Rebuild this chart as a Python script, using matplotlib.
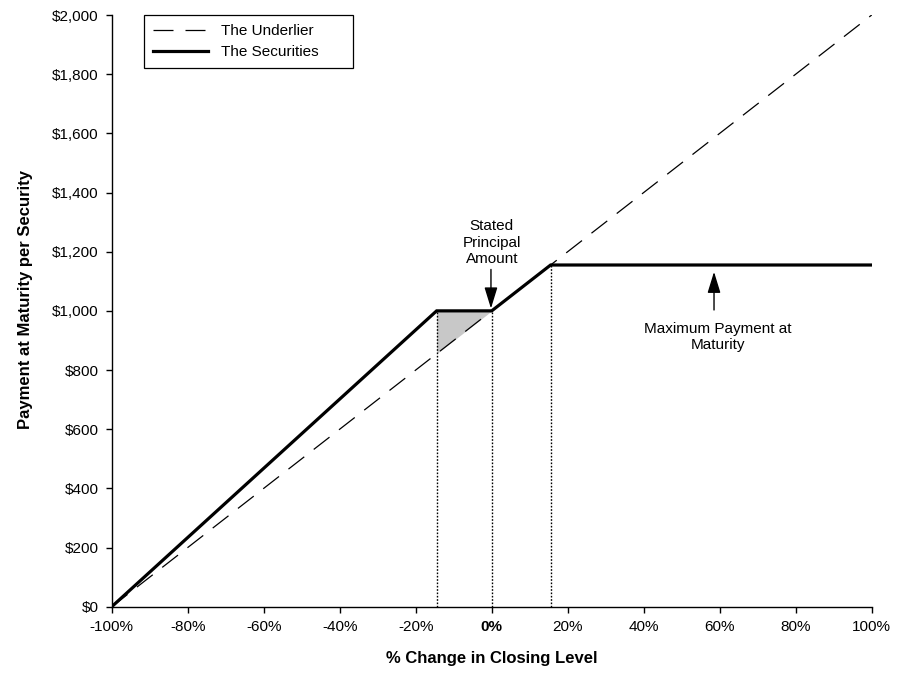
import numpy as np
import matplotlib
matplotlib.use('Agg')
import matplotlib.pyplot as plt

plt.rcParams['font.family'] = ['Liberation Sans', 'DejaVu Sans']

# Data
underlier_x = [-100, 100]
underlier_y = [0, 2000]
securities_x = [-100, -14.5, 0, 15.5, 100]
securities_y = [0, 1000, 1000, 1155, 1155]
buffer_x = [-14.5, 0]
guide_x = [-14.5, 0, 15.5]
x_ticks = [-100, -80, -60, -40, -20, 0, 20, 40, 60, 80, 100]
y_ticks = [0, 200, 400, 600, 800, 1000, 1200, 1400, 1600, 1800, 2000]

fig = plt.figure(figsize=(9.01, 6.73), dpi=100)
ax = fig.add_axes([0.124, 0.0985, 0.8435, 0.8792])

# shaded buffer region between the two lines
fx = np.linspace(buffer_x[0], buffer_x[1], 50)
ax.fill_between(fx, np.interp(fx, underlier_x, underlier_y),
                np.interp(fx, securities_x, securities_y),
                color='#c8c8c8', linewidth=0, zorder=1)

# dotted guide lines down to the axis
for gx in guide_x:
    ax.plot([gx, gx], [0, np.interp(gx, securities_x, securities_y)],
            color='black', linestyle=(0, (1.2, 1.2)), linewidth=1.0, zorder=2)

ax.plot(underlier_x, underlier_y, color='black', linewidth=0.9,
        linestyle=(0, (16, 9.6)), label='The Underlier', zorder=3)
ax.plot(securities_x, securities_y, color='black', linewidth=2.3,
        label='The Securities', zorder=4, solid_joinstyle='miter')

ax.set_xlim(-100, 100)
ax.set_ylim(0, 2000)
ax.set_xticks(x_ticks)
ax.set_xticklabels(['%d%%' % t for t in x_ticks], fontsize=11)
ax.get_xticklabels()[5].set_fontweight('bold')
ax.set_yticks(y_ticks)
ax.set_yticklabels(['${:,}'.format(t) for t in y_ticks], fontsize=11)
ax.tick_params(direction='out', length=4.5, width=1.0, pad=5)

for side in ['top', 'right']:
    ax.spines[side].set_visible(False)
for side in ['left', 'bottom']:
    ax.spines[side].set_linewidth(1.0)

ax.set_xlabel('% Change in Closing Level', fontsize=12, fontweight='bold', labelpad=12)
ax.set_ylabel('Payment at Maturity per Security', fontsize=12, fontweight='bold')
ax.yaxis.set_label_coords(-0.104, 0.52)

# annotations
arrow = dict(arrowstyle='-|>,head_length=1.3,head_width=0.4',
             color='black', lw=1.0, shrinkA=0, shrinkB=0)
ax.text(0, 1150, 'Stated\nPrincipal\nAmount', ha='center', va='bottom',
        fontsize=11, linespacing=1.25)
ax.annotate('', xy=(-0.2, 1008), xytext=(-0.2, 1140), arrowprops=arrow)
ax.text(59.5, 962, 'Maximum Payment at\nMaturity', ha='center', va='top',
        fontsize=11, linespacing=1.15)
ax.annotate('', xy=(58.5, 1132), xytext=(58.5, 1003), arrowprops=arrow)

leg = ax.legend(loc='upper left', bbox_to_anchor=(0.0425, 0.5, 0.275, 0.5),
                mode='expand', borderaxespad=0,
                fancybox=False, edgecolor='black', fontsize=11, handlelength=3.6,
                framealpha=1, borderpad=0.6, labelspacing=0.45, handletextpad=0.85)
leg.get_frame().set_linewidth(0.9)

fig.savefig('out.png', dpi=100)
